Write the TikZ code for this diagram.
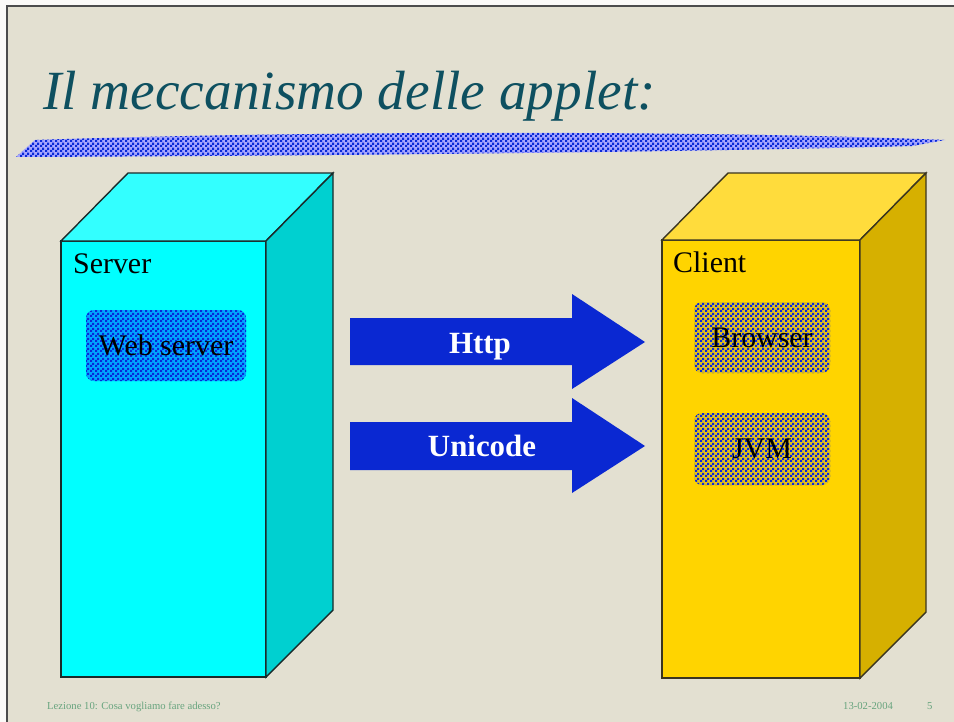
\documentclass[tikz,border=0pt]{standalone}
\usepackage{fontspec}
\setmainfont{Liberation Serif}
\usetikzlibrary{patterns}
\pgfdeclarepatternformonly{finecheck}{\pgfpointorigin}{\pgfqpoint{5bp}{5bp}}{\pgfqpoint{5bp}{5bp}}{%
  \pgfpathrectangle{\pgfpointorigin}{\pgfqpoint{2.5bp}{2.5bp}}%
  \pgfpathrectangle{\pgfqpoint{2.5bp}{2.5bp}}{\pgfqpoint{2.5bp}{2.5bp}}%
  \pgfusepath{fill}}
\definecolor{bgcol}{HTML}{E3E0D1}
\definecolor{titlecol}{HTML}{0E5060}
\definecolor{footcol}{HTML}{68A47E}
\definecolor{checkblue}{HTML}{0A2AD8}
\definecolor{arrowblue}{HTML}{0A28D2}
\definecolor{cyanfront}{HTML}{00FFFF}
\definecolor{cyantop}{HTML}{33FFFF}
\definecolor{cyanside}{HTML}{00D0D0}
\definecolor{goldfront}{HTML}{FFD400}
\definecolor{goldtop}{HTML}{FFDC3C}
\definecolor{goldside}{HTML}{D6B000}
\definecolor{cyanedge}{HTML}{1A2A2A}
\definecolor{goldedge}{HTML}{3A3520}
\tikzset{
  face/.style={line width=1.4bp, line join=miter},
  frontbox/.style={face, rectangle, inner sep=0pt, outer sep=0pt, anchor=north west},
  chip/.style={rectangle, rounded corners=8bp, inner sep=0pt, outer sep=0pt,
    font=\fontsize{30}{32}\selectfont, text=black},
  boxlabel/.style={anchor=base west, inner sep=0pt, font=\fontsize{30}{32}\selectfont},
  arrowtext/.style={anchor=base, inner sep=0pt, text=white, font=\fontsize{31}{33}\selectfont\bfseries},
  foot/.style={anchor=base west, inner sep=0pt, text=footcol, font=\fontsize{10.7}{12}\selectfont},
  blockarrow/.style={fill=arrowblue}
}
\begin{document}
\begin{tikzpicture}[x=1bp,y=-1bp]
\useasboundingbox (0,0) rectangle (954,722);
\fill[bgcol] (0,0) rectangle (954,722);
\fill[white!85!bgcol] (0,0) rectangle (954,5);
\fill[white!85!bgcol] (0,0) rectangle (6,722);
\draw[line width=1.5bp, black!70] (7,722) -- (7,6) -- (954,6);

% title
\node[anchor=base west, inner sep=0pt, text=titlecol, font=\fontsize{55.5}{60}\selectfont\itshape] (title) at (43,110) {Il meccanismo delle applet:};

% band
\path[preaction={fill=white!65!blue}, pattern=finecheck, pattern color=checkblue]
  (16,157) -- (35,140) .. controls (300,131) and (700,130) .. (945,140)
  -- (912,146) .. controls (700,152) and (300,156) .. (16,157) -- cycle;

% server box
\node[frontbox, draw=cyanedge, fill=cyanfront, minimum width=205bp, minimum height=436bp] (sfront) at (61,241) {};
\coordinate (stopl) at ([shift={(67,-68)}]sfront.north west);
\coordinate (stopr) at ([shift={(67,-68)}]sfront.north east);
\coordinate (sbotr) at ([shift={(67,-67)}]sfront.south east);
\draw[face, draw=cyanedge, fill=cyantop] (sfront.north west) -- (stopl) -- (stopr) -- (sfront.north east) -- cycle;
\draw[face, draw=cyanedge, fill=cyanside] (sfront.north east) -- (stopr) -- (sbotr) -- (sfront.south east) -- cycle;
\node[boxlabel] (slabel) at (73,273) {Server};
\node[chip, minimum width=160bp, minimum height=71bp,
  preaction={fill=cyanfront!65!blue}, pattern=finecheck, pattern color=checkblue] (web) at (166,345.5) {};
\node[chip] (webtext) at (web.center) {Web server};

% client box
\node[frontbox, draw=goldedge, fill=goldfront, minimum width=198bp, minimum height=438bp] (cfront) at (662,240) {};
\coordinate (ctopl) at ([shift={(66,-67)}]cfront.north west);
\coordinate (ctopr) at ([shift={(66,-67)}]cfront.north east);
\coordinate (cbotr) at ([shift={(66,-66)}]cfront.south east);
\draw[face, draw=goldedge, fill=goldtop] (cfront.north west) -- (ctopl) -- (ctopr) -- (cfront.north east) -- cycle;
\draw[face, draw=goldedge, fill=goldside] (cfront.north east) -- (ctopr) -- (cbotr) -- (cfront.south east) -- cycle;
\node[boxlabel] (clabel) at (673,272) {Client};
\node[chip, minimum width=136bp, minimum height=71bp,
  preaction={fill=goldfront!75!gray}, pattern=finecheck, pattern color=checkblue] (browser) at (762,337.5) {};
\node[chip] (browsertext) at (browser.center) {Browser};
\node[chip, minimum width=136bp, minimum height=72bp,
  preaction={fill=goldfront!75!gray}, pattern=finecheck, pattern color=checkblue] (jvm) at (762,449) {};
\node[chip] (jvmtext) at (jvm.center) {JVM};

% block arrows
\fill[blockarrow] (350,318) -- (572,318) -- (572,294) -- (645,342) -- (572,389) -- (572,365) -- (350,365) -- cycle;
\node[arrowtext] (http) at (480,353) {Http};
\fill[blockarrow] (350,422) -- (572,422) -- (572,398) -- (645,446) -- (572,493) -- (572,470) -- (350,470) -- cycle;
\node[arrowtext] (unicode) at (482,456) {Unicode};

% footer
\node[foot] (lez) at (47,709) {Lezione 10: Cosa vogliamo fare adesso?};
\node[foot] (date) at (843,709) {13-02-2004};
\node[foot] (page) at (927,709) {5};
\end{tikzpicture}
\end{document}
